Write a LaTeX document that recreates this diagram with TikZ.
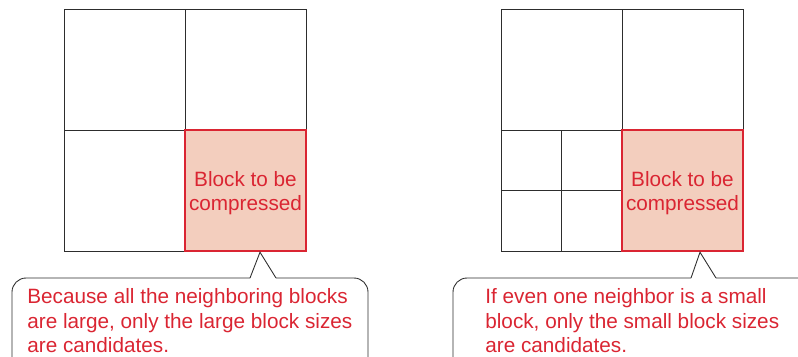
\documentclass[tikz,border=0pt]{standalone}
\usepackage{fontspec}
\setmainfont{Liberation Sans}
\usepackage{xcolor}
\definecolor{gridgray}{RGB}{45,45,45}
\definecolor{blockred}{RGB}{218,37,50}
\definecolor{blockpink}{RGB}{243,206,190}
\usetikzlibrary{positioning}

\begin{document}
\begin{tikzpicture}[
  x=0.02cm, y=-0.02cm,
  every node/.style={font=\fontsize{11.8}{13.8}\selectfont},
  cell/.style={draw=gridgray,line width=0.5pt,minimum size=2.42cm,inner sep=0pt},
  smallcell/.style={cell,minimum size=1.21cm},
  target/.style={cell,fill=blockpink,draw=blockred,line width=1.4pt},
  blocktext/.style={text=blockred,align=center,inner sep=0pt},
  bubble/.style={draw=gridgray,line width=0.5pt,rounded corners=8},
  note/.style={text=blockred,align=left,anchor=north west,inner sep=0pt},
]
  \useasboundingbox (0,0) rectangle (798,356);
  \clip (0,0) rectangle (798,356);

  % Left grid: four large blocks
  \node[cell] (ltl) at (124.5,69.5) {};
  \node[cell] (ltr) at (245.5,69.5) {};
  \node[cell] (lbl) at (124.5,190.5) {};
  \node[target] (lblk) at (245.5,190.5) {};
  \node[blocktext] (ltxt) at (245.5,193) {Block to be\\compressed};

  % Left callout
  \draw[bubble] (250,278) -- (12,278) -- (12,372) -- (368,372) -- (368,278) -- (276,278);
  \draw[draw=gridgray,line width=0.5pt] (250,278) -- (lblk.south -| 260,0) -- (276,278);
  \node[note] (lnote) at (27,288.5) {Because all the neighboring blocks\\
    are large, only the large block sizes\\are candidates.};

  % Right grid: bottom-left block split into small ones
  \node[cell] (rtl) at (561.5,69.5) {};
  \node[cell] (rtr) at (682.5,69.5) {};
  \node[smallcell] (rs1) at (531.25,160.25) {};
  \node[smallcell] (rs2) at (591.75,160.25) {};
  \node[smallcell] (rs3) at (531.25,220.75) {};
  \node[smallcell] (rs4) at (591.75,220.75) {};
  \node[target] (rblk) at (682.5,190.5) {};
  \node[blocktext] (rtxt) at (682.5,193) {Block to be\\compressed};

  % Right callout
  \draw[bubble] (691,278) -- (453,278) -- (453,372) -- (820,372) -- (820,278) -- (716,278);
  \draw[draw=gridgray,line width=0.5pt] (691,278) -- (rblk.south -| 700,0) -- (716,278);
  \node[note] (rnote) at (485,288.5) {If even one neighbor is a small\\
    block, only the small block sizes\\are candidates.};
\end{tikzpicture}
\end{document}
